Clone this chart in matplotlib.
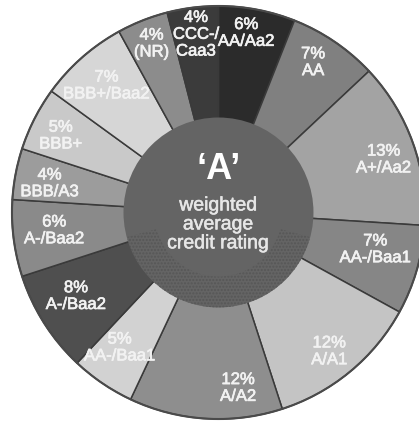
import numpy as np
import matplotlib
matplotlib.use("Agg")
import matplotlib.pyplot as plt
import matplotlib.patheffects as pe
from matplotlib.patches import Circle, Wedge

plt.rcParams['font.family'] = ['Liberation Sans', 'DejaVu Sans']

# slices, clockwise from 12 o'clock
pcts = [6, 7, 13, 7, 12, 12, 5, 8, 6, 4, 5, 7, 4, 4]
ratings = ["AA/Aa2", "AA", "A+/Aa2", "AA-/Baa1", "A/A1", "A/A2", "AA-/Baa1",
           "A-/Baa2", "A-/Baa2", "BBB/A3", "BBB+", "BBB+/Baa2", "(NR)", "CCC-/\nCaa3"]
greys = ["#2b2b2b", "#808080", "#a3a3a3", "#868686", "#c4c4c4", "#8e8e8e", "#d2d2d2",
         "#4f4f4f", "#8a8a8a", "#9c9c9c", "#c9c9c9", "#d6d6d6", "#8c8c8c", "#3b3b3b"]

# label placement (radius fraction, angle nudge in degrees)
lab_r = [0.88, 0.86, 0.84, 0.78, 0.86, 0.855, 0.81, 0.80, 0.80, 0.83, 0.85, 0.82, 0.88, 0.87]
lab_da = [2, 2, -2, 3, -1, 10, -2, -2, -1, 1, 1, 0, 0, 0]

fig = plt.figure(figsize=(4.19, 4.22), dpi=100)
ax = fig.add_axes([0, 0, 1, 1])

wedges, _ = ax.pie(pcts, colors=greys, startangle=90, counterclock=False,
                   radius=1.0, wedgeprops=dict(edgecolor='#3a3a3a', linewidth=1.1))

thick = [pe.withStroke(linewidth=0.5, foreground='#f2f2f2')]
for i, w in enumerate(wedges):
    mid = np.deg2rad((w.theta1 + w.theta2) / 2 + lab_da[i])
    x = lab_r[i] * np.cos(mid)
    y = lab_r[i] * np.sin(mid)
    ax.text(x, y, f"{pcts[i]}%\n{ratings[i]}", ha='center', va='center',
            color='#f2f2f2', fontsize=12, linespacing=1.15, path_effects=thick)

# outer rim
ax.add_patch(Circle((0, 0), 1.0, facecolor='none', edgecolor='#4a4a4a', lw=1.5))

# centre disc
ax.add_patch(Circle((0, 0), 0.46, facecolor='#646464', edgecolor='none', zorder=3))
ax.add_patch(Wedge((0, 0), 0.46, -165, -15, width=0.15, facecolor='none',
                   edgecolor='#565656', hatch='.....', lw=0, zorder=4))

ax.text(0.0, 0.21, "\u2018A\u2019", ha='center', va='center', color='white',
        fontsize=26, fontweight='bold', zorder=5)
ax.text(0.0, -0.06, "weighted\naverage\ncredit rating", ha='center', va='center',
        color='#e6e6e6', fontsize=14, linespacing=1.15, zorder=5,
        path_effects=[pe.withStroke(linewidth=0.4, foreground='#e6e6e6')])

ax.set_xlim(-1.058, 0.971)
ax.set_ylim(-1.0145, 1.029)
ax.set_aspect('auto')
ax.axis('off')

fig.savefig("out.png", dpi=100, facecolor='white')
